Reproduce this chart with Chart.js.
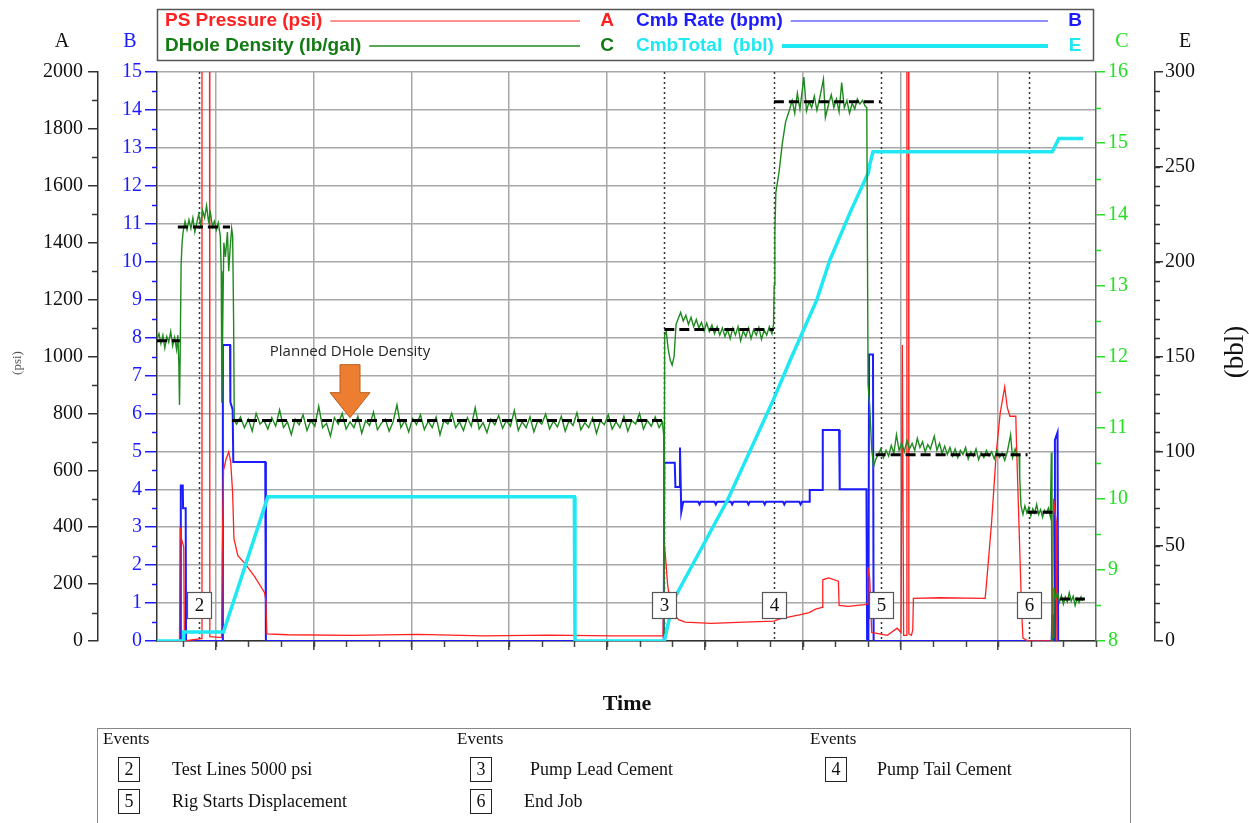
<!DOCTYPE html>
<html>
<head>
<meta charset="utf-8">
<title>Cement Job - Pressure / Rate / Density</title>
<script src="https://cdn.jsdelivr.net/npm/chart.js@4.4.1/dist/chart.umd.min.js"></script>
<style>
  body { margin: 0; background: #fff; }
  canvas { display: block; }
</style>
</head>
<body>
<canvas id="jobChart" width="1249" height="823"></canvas>
<script>
// time axis in minutes, [time, value] pairs
const timeGrid = [9, 24, 39, 54, 69, 84, 99, 114, 129];

const pressurePsi = [
    [0, 0], [3.45, 0], [3.55, 400], [3.75, 360], [4.1, 330], [4.2, 0], [6.8, 8], [6.9, 5000], [8.0, 5000], [8.1, 15],
    [9.9, 12], [10.0, 300], [10.2, 600], [10.6, 640], [11.0, 665], [11.3, 630], [11.6, 520], [11.8, 360], [12.4, 300],
    [13.5, 272], [15.0, 225], [16.5, 170], [16.7, 140], [16.85, 25], [20, 22], [30, 20], [40, 23], [50, 18], [60, 21],
    [70, 18], [77.6, 18], [77.8, 345], [78.0, 290], [78.3, 200], [78.7, 130], [79.2, 95], [80, 75], [81, 66], [85, 62],
    [90, 66], [94.6, 70], [95.5, 78], [97, 85], [98.5, 92], [100, 100], [101, 112], [102, 118], [102.1, 215], [103, 222],
    [104.5, 210], [104.6, 125], [106, 122], [108.5, 128], [108.9, 130], [109.0, 260], [109.3, 220], [109.6, 30],
    [112, 20], [113.5, 45], [114.1, 30], [114.3, 1040], [114.5, 20], [114.9, 20], [115.0, 5000], [115.2, 5000],
    [115.3, 25], [115.7, 20], [115.9, 40], [116.0, 150], [120, 152], [127, 150], [127.2, 200], [128, 420], [128.7, 660],
    [129.3, 800], [130, 893], [130.4, 820], [130.8, 790], [131.7, 790], [131.8, 700], [132.2, 400], [132.6, 100],
    [132.8, 10], [133.6, 0], [137.3, 0], [137.5, 500], [137.9, 420], [138.0, 0]
];

const rateBpm = [
    [0, 0], [3.6, 0], [3.65, 4.1], [3.95, 4.1], [4.0, 3.5], [4.4, 3.5], [4.45, 0], [10.05, 0], [10.1, 7.8], [11.2, 7.8],
    [11.25, 6.3], [11.6, 6.1], [11.7, 4.72], [16.6, 4.72], [16.7, 0], [77.7, 0], [77.8, 4.7], [79.4, 4.7], [79.5, 4.06],
    [80.1, 4.06], [80.2, 5.1], [80.4, 3.4], [80.7, 3.67], [83, 3.67], [83.2, 3.6], [83.4, 3.67], [85.5, 3.67],
    [85.7, 3.6], [85.9, 3.67], [88, 3.67], [88.2, 3.6], [88.4, 3.67], [90.5, 3.67], [90.7, 3.6], [90.9, 3.67],
    [93, 3.67], [93.2, 3.6], [93.4, 3.67], [96, 3.67], [96.2, 3.6], [96.4, 3.67], [98.5, 3.67], [98.7, 3.6],
    [98.9, 3.67], [100.0, 3.67], [100.1, 3.98], [102.0, 3.98], [102.1, 5.56], [104.6, 5.56], [104.7, 4.0], [108.8, 4.0],
    [108.9, 0], [109.1, 0], [109.2, 7.55], [109.8, 7.55], [109.9, 0], [137.2, 0], [137.3, 0.7], [137.4, 0], [137.6, 0],
    [137.7, 5.3], [138.1, 5.5], [138.2, 0]
];

const densityPpg = [
    [0, 12.25], [0.3, 12.32], [0.6, 12.18], [0.9, 12.3], [1.2, 12.12], [1.5, 12.28], [1.8, 12.2], [2.1, 12.35],
    [2.4, 12.15], [2.7, 12.27], [3.0, 12.1], [3.2, 12.3], [3.35, 11.9], [3.45, 11.32], [3.55, 12.0], [3.7, 13.3],
    [3.85, 13.6], [4.0, 13.75], [4.3, 13.9], [4.6, 13.78], [4.9, 13.92], [5.2, 13.8], [5.5, 13.95], [5.8, 13.75],
    [6.1, 13.88], [6.4, 14.0], [6.7, 13.85], [7.0, 14.05], [7.3, 13.95], [7.6, 14.12], [7.9, 13.9], [8.2, 14.02],
    [8.5, 13.82], [8.8, 13.9], [9.1, 13.78], [9.4, 13.88], [9.7, 13.7], [9.85, 13.2], [9.95, 11.35], [10.1, 12.6],
    [10.25, 13.6], [10.5, 13.4], [10.8, 13.75], [11.0, 13.2], [11.2, 13.5], [11.45, 13.8], [11.6, 13.7], [11.75, 12.5],
    [11.85, 11.1], [12.2, 11.05], [12.8, 11.15], [13.4, 11.0], [14.0, 11.12], [14.6, 10.95], [15.2, 11.2], [15.8, 11.05],
    [16.4, 11.1], [17.0, 10.98], [17.6, 11.14], [18.2, 11.02], [18.8, 11.25], [19.4, 11.0], [20.0, 11.08], [20.6, 10.9],
    [21.2, 11.12], [21.8, 11.04], [22.4, 11.18], [23.0, 10.96], [23.6, 11.1], [24.2, 11.02], [24.8, 11.3], [25.4, 11.0],
    [26.0, 11.06], [26.6, 10.88], [27.2, 11.14], [27.8, 11.05], [28.4, 11.2], [29.0, 10.98], [29.6, 11.08], [30.2, 11.0],
    [30.8, 11.16], [31.4, 10.92], [32.0, 11.1], [32.6, 11.03], [33.2, 11.22], [33.8, 10.97], [34.4, 11.06], [35.0, 11.12],
    [35.6, 10.95], [36.2, 11.08], [36.8, 11.32], [37.4, 11.0], [38.0, 11.1], [38.6, 10.94], [39.2, 11.13], [39.8, 11.04],
    [40.4, 11.18], [41.0, 10.97], [41.6, 11.09], [42.2, 11.0], [42.8, 11.15], [43.4, 10.9], [44.0, 11.1], [44.6, 11.05],
    [45.2, 11.2], [45.8, 11.0], [46.4, 11.08], [47.0, 10.96], [47.6, 11.14], [48.2, 11.02], [48.8, 11.28], [49.4, 10.98],
    [50.0, 11.07], [50.6, 10.93], [51.2, 11.12], [51.8, 11.04], [52.4, 11.17], [53.0, 10.99], [53.6, 11.1], [54.2, 11.02],
    [54.8, 11.24], [55.4, 10.96], [56.0, 11.08], [56.6, 11.0], [57.2, 11.15], [57.8, 10.94], [58.4, 11.1], [59.0, 11.05],
    [59.6, 11.19], [60.2, 10.98], [60.8, 11.09], [61.4, 11.01], [62.0, 11.16], [62.6, 10.95], [63.2, 11.1], [63.8, 11.03],
    [64.4, 11.21], [65.0, 10.97], [65.6, 11.07], [66.2, 11.0], [66.8, 11.14], [67.4, 10.92], [68.0, 11.1], [68.6, 11.04],
    [69.2, 11.18], [69.8, 10.98], [70.4, 11.08], [71.0, 11.0], [71.6, 11.16], [72.2, 10.95], [72.8, 11.1], [73.4, 11.05],
    [74.0, 11.2], [74.6, 10.98], [75.2, 11.1], [75.8, 11.02], [76.4, 11.15], [77.0, 11.0], [77.5, 11.08], [77.7, 10.9],
    [77.75, 8.1], [77.85, 12.3], [78.1, 12.35], [78.4, 12.1], [78.7, 11.95], [79.0, 11.88], [79.3, 12.0], [79.6, 12.45],
    [80.0, 12.55], [80.3, 12.62], [80.7, 12.5], [81.1, 12.58], [81.5, 12.45], [81.9, 12.55], [82.3, 12.42], [82.7, 12.52],
    [83.1, 12.4], [83.5, 12.48], [83.9, 12.36], [84.3, 12.47], [84.7, 12.35], [85.1, 12.44], [85.5, 12.32], [85.9, 12.42],
    [86.3, 12.3], [86.7, 12.4], [87.1, 12.28], [87.5, 12.38], [87.9, 12.25], [88.3, 12.4], [88.7, 12.3], [89.1, 12.42],
    [89.5, 12.22], [89.9, 12.36], [90.3, 12.28], [90.7, 12.4], [91.1, 12.25], [91.5, 12.38], [91.9, 12.3], [92.3, 12.41],
    [92.7, 12.24], [93.1, 12.37], [93.5, 12.3], [93.9, 12.42], [94.3, 12.32], [94.55, 12.45], [94.65, 13.0],
    [94.75, 13.74], [94.9, 14.3], [95.4, 14.6], [95.9, 15.0], [96.4, 15.3], [97.0, 15.47], [97.4, 15.6], [97.8, 15.42],
    [98.2, 15.7], [98.6, 15.48], [99.2, 15.93], [99.6, 15.45], [100.0, 15.58], [100.4, 15.5], [100.8, 15.66],
    [101.2, 15.46], [101.6, 15.62], [102.2, 15.9], [102.5, 15.36], [103.0, 15.55], [103.4, 15.68], [103.8, 15.5],
    [104.2, 15.62], [104.6, 15.44], [105.0, 15.85], [105.4, 15.5], [105.8, 15.6], [106.2, 15.42], [106.6, 15.56],
    [107.0, 15.48], [107.4, 15.62], [107.8, 15.55], [108.2, 15.6], [108.6, 15.52], [108.85, 15.5], [108.95, 13.5],
    [109.05, 11.6], [109.3, 11.3], [109.6, 10.7], [109.9, 10.45], [110.2, 10.55], [110.6, 10.62], [111.0, 10.7],
    [111.4, 10.58], [111.8, 10.68], [112.2, 10.6], [112.6, 10.75], [113.0, 10.64], [113.4, 10.9], [113.8, 10.68],
    [114.2, 10.78], [114.6, 10.66], [115.0, 10.82], [115.4, 10.7], [115.8, 10.78], [116.2, 10.68], [116.6, 10.85],
    [117.0, 10.72], [117.4, 10.8], [117.8, 10.66], [118.2, 10.76], [118.6, 10.7], [119.2, 10.88], [119.6, 10.68],
    [120.0, 10.78], [120.4, 10.64], [120.8, 10.74], [121.2, 10.62], [121.6, 10.72], [122.0, 10.6], [122.4, 10.7],
    [122.8, 10.58], [123.2, 10.68], [123.6, 10.62], [124.0, 10.72], [124.4, 10.56], [124.8, 10.66], [125.2, 10.6],
    [125.6, 10.7], [126.0, 10.55], [126.4, 10.65], [126.8, 10.58], [127.2, 10.68], [127.6, 10.6], [128.0, 10.66],
    [128.4, 10.56], [128.8, 10.68], [129.2, 10.58], [129.6, 10.64], [130.0, 10.54], [130.4, 10.66], [130.9, 10.9],
    [131.2, 10.58], [131.6, 10.7], [131.9, 10.6], [132.2, 10.62], [132.3, 10.3], [132.5, 9.9], [132.8, 9.78],
    [133.1, 9.9], [133.4, 9.8], [133.7, 9.88], [134.0, 9.76], [134.3, 9.86], [134.6, 9.8], [134.9, 9.92], [135.2, 9.78],
    [135.5, 9.85], [135.8, 9.74], [136.1, 9.84], [136.4, 9.8], [136.7, 9.87], [137.0, 9.75], [137.15, 10.65],
    [137.25, 8.0], [137.45, 8.05], [137.55, 8.75], [137.8, 8.6], [138.1, 8.68], [138.4, 8.55], [138.7, 8.64],
    [139.0, 8.52], [139.3, 8.62], [139.6, 8.55], [139.9, 8.68], [140.2, 8.56], [140.5, 8.63], [140.8, 8.5],
    [141.1, 8.6], [141.4, 8.54], [141.7, 8.62], [141.9, 8.56]
];

const totalBbl = [
    [0, 0], [4.0, 0], [4.1, 4.7], [10.2, 4.7], [17.0, 76], [64.0, 76], [64.1, 0], [77.8, 0], [79.2, 21.6],
    [87.5, 74.3], [94.5, 127], [97.1, 148], [101.2, 180], [103.2, 201], [106.3, 226], [109.1, 247], [109.3, 251],
    [109.8, 258], [137.3, 258], [138.3, 265], [142, 265]
];

// planned downhole density, one flat run per fluid (null = break)
const plannedPpg = [
    [0, 12.22], [3.5, 12.22], [3.5, null], [3.2, 13.82], [11.2, 13.82], [11.2, null], [11.5, 11.1], [77.8, 11.1],
    [77.8, null], [77.8, 12.38], [94.6, 12.38], [94.6, null], [94.6, 15.58], [111.0, 15.58], [111.0, null],
    [110.2, 10.62], [133.5, 10.62], [133.5, null], [133.5, 9.81], [138.0, 9.81], [138.0, null], [138.5, 8.59], [142.3, 8.59]
];

const eventTime = [6.5, 77.8, 94.6, 111.0, 133.7];
const eventNo = ['2', '3', '4', '5', '6'];
const eventName = ['Test Lines 5000 psi', 'Pump Lead Cement', 'Pump Tail Cement', 'Rig Starts Displacement', 'End Job'];

const arrowTime = 29.6;
const arrowPpg = 11.14;

const RED = '#ff2020', BLUE = '#1c1cff', GREEN = '#1e8a1e', CYAN = '#20e8f2', LIME = '#22e022';
const serif = '"Liberation Serif", "Times New Roman", serif';
const sans = '"Liberation Sans", Arial, sans-serif';

function pts(pairs) { return pairs.map(p => ({ x: p[0], y: p[1] })); }
const plain = v => String(v);

function minorTicks(ctx, scale, from, to, step, len, color, side) {
    ctx.save();
    ctx.strokeStyle = color;
    ctx.lineWidth = 1.5;
    ctx.beginPath();
    for (let v = from; v <= to + 1e-9; v += step) {
        if (side === 'bottom') {
            const x = Math.round(scale.getPixelForValue(v)) + 0.5;
            ctx.moveTo(x, scale.top); ctx.lineTo(x, scale.top + len);
        } else {
            const y = Math.round(scale.getPixelForValue(v)) + 0.5;
            const ax = side === 'left' ? scale.right : scale.left;
            const dir = side === 'left' ? -1 : 1;
            ctx.moveTo(ax, y); ctx.lineTo(ax + dir * len, y);
        }
    }
    ctx.stroke();
    ctx.restore();
}

const eventLines = {
    id: 'eventLines',
    beforeDatasetsDraw(chart) {
        const { ctx, chartArea: a, scales } = chart;
        ctx.save();
        ctx.setLineDash([2, 3]);
        ctx.strokeStyle = '#333';
        ctx.lineWidth = 1.5;
        eventTime.forEach(t => {
            const x = Math.round(scales.x.getPixelForValue(t)) + 0.5;
            ctx.beginPath(); ctx.moveTo(x, a.top); ctx.lineTo(x, a.bottom); ctx.stroke();
        });
        ctx.restore();
    }
};

const overlay = {
    id: 'overlay',
    afterDatasetsDraw(chart) {
        const { ctx, chartArea: a, scales } = chart;
        ctx.save();
        // event markers
        ctx.font = '19px ' + serif;
        ctx.textAlign = 'center';
        ctx.textBaseline = 'middle';
        eventTime.forEach((t, i) => {
            const x = Math.round(scales.x.getPixelForValue(t));
            const y = a.bottom - 36;
            ctx.fillStyle = '#fff';
            ctx.fillRect(x - 12, y - 13, 24, 26);
            ctx.strokeStyle = '#555';
            ctx.lineWidth = 1.2;
            ctx.strokeRect(x - 11.5, y - 12.5, 24, 26);
            ctx.fillStyle = '#111';
            ctx.fillText(eventNo[i], x + 0.5, y + 1);
        });

        // planned density callout
        const tx = scales.x.getPixelForValue(arrowTime);
        const ty = scales.C.getPixelForValue(arrowPpg);
        ctx.beginPath();
        ctx.moveTo(tx, ty);
        ctx.lineTo(tx - 20, ty - 25);
        ctx.lineTo(tx - 10, ty - 25);
        ctx.lineTo(tx - 10, ty - 53);
        ctx.lineTo(tx + 10, ty - 53);
        ctx.lineTo(tx + 10, ty - 25);
        ctx.lineTo(tx + 20, ty - 25);
        ctx.closePath();
        ctx.fillStyle = '#ed7d31';
        ctx.fill();
        ctx.strokeStyle = '#b9601f';
        ctx.lineWidth = 1;
        ctx.stroke();
        ctx.fillStyle = '#262626';
        ctx.font = '15px "Open Sans", "Noto Sans", sans-serif';
        ctx.fillText('Planned DHole Density', tx, ty - 66);
        ctx.restore();
    },
    afterDraw(chart) {
        const { ctx, scales } = chart;
        minorTicks(ctx, scales.A, 100, 1900, 200, 6, '#333', 'left');
        minorTicks(ctx, scales.B, 0.5, 14.5, 1, 5, BLUE, 'left');
        minorTicks(ctx, scales.C, 8.5, 15.5, 1, 5, LIME, 'right');
        minorTicks(ctx, scales.E, 10, 290, 10, 5, '#333', 'right');
        minorTicks(ctx, scales.x, 4, 144, 5, 6, '#444', 'bottom');

        ctx.save();
        ctx.textBaseline = 'middle';
        ctx.textAlign = 'center';
        ctx.font = '20px ' + serif;
        ctx.fillStyle = '#111'; ctx.fillText('A', 62, 42);
        ctx.fillStyle = BLUE; ctx.fillText('B', 130, 42);
        ctx.fillStyle = LIME; ctx.fillText('C', 1122, 42);
        ctx.fillStyle = '#111'; ctx.fillText('E', 1185, 42);

        ctx.save();
        ctx.translate(18, 363); ctx.rotate(-Math.PI / 2);
        ctx.font = '13px ' + serif; ctx.fillStyle = '#555';
        ctx.fillText('(psi)', 0, 0);
        ctx.restore();
        ctx.save();
        ctx.translate(1236, 352); ctx.rotate(-Math.PI / 2);
        ctx.font = '27px ' + serif; ctx.fillStyle = '#111';
        ctx.fillText('(bbl)', 0, 0);
        ctx.restore();

        ctx.font = 'bold 22px ' + serif;
        ctx.fillStyle = '#111';
        ctx.fillText('Time', 627, 704);

        // legend
        ctx.strokeStyle = '#555'; ctx.lineWidth = 1.5;
        ctx.strokeRect(157.5, 9.5, 936, 51);
        const rows = [
            { label: 'PS Pressure (psi)', axis: 'A', color: RED, text: RED, x: 165, y: 21, end: 580, w: 1 },
            { label: 'Cmb Rate (bpm)', axis: 'B', color: BLUE, text: BLUE, x: 636, y: 21, end: 1048, w: 1 },
            { label: 'DHole Density (lb/gal)', axis: 'C', color: GREEN, text: '#137a13', x: 165, y: 46, end: 580, w: 1.5 },
            { label: 'CmbTotal  (bbl)', axis: 'E', color: CYAN, text: CYAN, x: 636, y: 46, end: 1048, w: 4 }
        ];
        ctx.font = 'bold 19px ' + sans;
        rows.forEach(r => {
            ctx.textAlign = 'left';
            ctx.fillStyle = r.text;
            ctx.fillText(r.label, r.x, r.y);
            const start = r.x + ctx.measureText(r.label).width + 8;
            ctx.strokeStyle = r.color; ctx.lineWidth = r.w;
            ctx.beginPath(); ctx.moveTo(start, r.y); ctx.lineTo(r.end, r.y); ctx.stroke();
            ctx.textAlign = 'center';
            ctx.fillText(r.axis, r.end + 27, r.y);
        });

        // events table
        ctx.strokeStyle = '#888'; ctx.lineWidth = 1;
        ctx.strokeRect(97.5, 728.5, 1033, 120);
        ctx.textAlign = 'left';
        ctx.fillStyle = '#111';
        ctx.font = '17px ' + serif;
        [103, 457, 810].forEach(x => ctx.fillText('Events', x, 740));
        const slots = [[118, 172, 769], [470, 530, 769], [825, 877, 769], [118, 172, 801], [470, 524, 801]];
        ctx.font = '18px ' + serif;
        slots.forEach((s, i) => {
            ctx.strokeStyle = '#222'; ctx.lineWidth = 1;
            ctx.strokeRect(s[0] + 0.5, s[2] - 11.5, 21, 24);
            ctx.textAlign = 'center';
            ctx.fillText(eventNo[i], s[0] + 11, s[2] + 1);
            ctx.textAlign = 'left';
            ctx.fillText(eventName[i], s[1], s[2] + 1);
        });
        ctx.restore();
    }
};

const lineDefaults = { pointRadius: 0, tension: 0, fill: false, spanGaps: false };

new Chart(document.getElementById('jobChart'), {
    type: 'line',
    data: {
        datasets: [
            { ...lineDefaults, label: 'Planned', data: pts(plannedPpg), yAxisID: 'C', borderColor: '#000', borderWidth: 3, borderDash: [10, 5], order: 0 },
            { ...lineDefaults, label: 'DHole Density (lb/gal)', data: pts(densityPpg), yAxisID: 'C', borderColor: GREEN, borderWidth: 1.4, order: 1 },
            { ...lineDefaults, label: 'CmbTotal (bbl)', data: pts(totalBbl), yAxisID: 'E', borderColor: CYAN, borderWidth: 3.5, order: 2 },
            { ...lineDefaults, label: 'PS Pressure (psi)', data: pts(pressurePsi), yAxisID: 'A', borderColor: RED, borderWidth: 1.3, order: 3 },
            { ...lineDefaults, label: 'Cmb Rate (bpm)', data: pts(rateBpm), yAxisID: 'B', borderColor: BLUE, borderWidth: 2, order: 4 }
        ]
    },
    options: {
        responsive: false,
        animation: false,
        devicePixelRatio: 1,
        layout: { padding: { top: 72, left: 0, right: 0, bottom: 0 } },
        plugins: { legend: { display: false }, tooltip: { enabled: false } },
        scales: {
            x: {
                type: 'linear', min: 0, max: 144,
                afterBuildTicks: s => { s.ticks = timeGrid.map(v => ({ value: v })); },
                afterFit: s => { s.height = 182; },
                ticks: { display: false },
                grid: { color: '#a8a8a8', lineWidth: 1.5, tickLength: 9, tickColor: '#444' },
                border: { color: '#333', width: 1.5 }
            },
            A: {
                position: 'left', weight: 2, min: 0, max: 2000,
                afterFit: s => { s.width = 98; },
                ticks: { stepSize: 200, color: '#111', padding: 5, font: { family: serif, size: 20 }, callback: plain },
                grid: { drawOnChartArea: false, tickLength: 10, tickColor: '#333', lineWidth: 1.5 },
                border: { color: '#333', width: 1.5 }
            },
            B: {
                position: 'left', weight: 1, min: 0, max: 15,
                afterFit: s => { s.width = 59; },
                ticks: { stepSize: 1, color: BLUE, padding: 3, font: { family: serif, size: 20 }, callback: plain },
                grid: { color: '#a8a8a8', lineWidth: 1.5, tickLength: 12, tickColor: BLUE },
                border: { color: '#333', width: 1.5 }
            },
            C: {
                position: 'right', weight: 1, min: 8, max: 16,
                afterFit: s => { s.width = 59; },
                ticks: { stepSize: 1, color: LIME, padding: 3, font: { family: serif, size: 20 }, callback: plain },
                grid: { drawOnChartArea: false, tickLength: 9, tickColor: LIME, lineWidth: 1.5 },
                border: { color: '#666', width: 1.5 }
            },
            E: {
                position: 'right', weight: 2, min: 0, max: 300,
                afterFit: s => { s.width = 94; },
                ticks: { stepSize: 50, color: '#111', padding: 2, font: { family: serif, size: 20 }, callback: plain },
                grid: { drawOnChartArea: false, tickLength: 8, tickColor: '#333', lineWidth: 1.5 },
                border: { color: '#333', width: 1.5 }
            }
        }
    },
    plugins: [eventLines, overlay]
});
</script>
</body>
</html>
